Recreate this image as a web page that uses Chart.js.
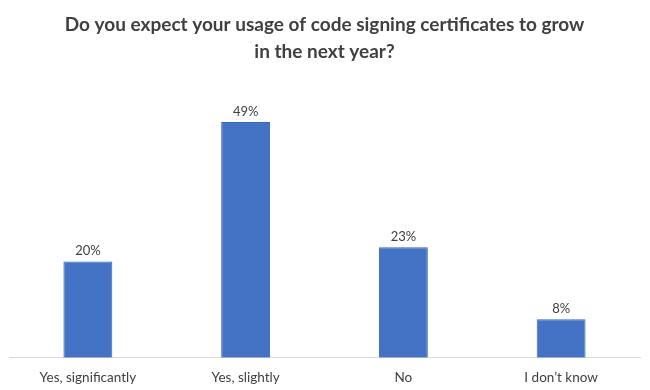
<!DOCTYPE html>
<html>
<head>
<meta charset="utf-8">
<script src="https://cdn.jsdelivr.net/npm/chart.js@4"></script>
<style>
  html, body { margin: 0; padding: 0; background: #fff; }
  #wrap { width: 650px; height: 390px; }
</style>
</head>
<body>
<div id="wrap"><canvas id="myChart"></canvas></div>
<script>
const answers = ['Yes, significantly', 'Yes, slightly', 'No', 'I don\u2019t know'];
const shares = [20, 49, 23, 8];
const titleLines = ['Do you expect your usage of code signing certificates to grow', 'in the next year?'];

// draws the % value above each bar
const barValues = {
  id: 'barValues',
  afterDatasetsDraw(chart) {
    const ctx = chart.ctx;
    ctx.save();
    ctx.font = '13px Lato';
    ctx.fillStyle = '#404040';
    ctx.textAlign = 'center';
    ctx.textBaseline = 'bottom';
    chart.getDatasetMeta(0).data.forEach((bar, i) => {
      ctx.fillText(shares[i] + '%', bar.x, bar.y - 4);
    });
    ctx.restore();
  },
};

const myBarChart = new Chart('myChart', {
  type: 'bar',
  data: {
    labels: answers,
    datasets: [
      {
        label: 'Share',
        data: shares,
        backgroundColor: '#4472C4',
        borderColor: '#3a66b8',
        borderWidth: 1,
        barPercentage: 0.31,
        categoryPercentage: 1,
      },
    ],
  },
  options: {
    responsive: true,
    maintainAspectRatio: false,
    animation: false,
    layout: { padding: { left: 9, right: 10, top: 0, bottom: -8 } },
    plugins: {
      legend: { display: false },
      tooltip: { enabled: false },
      title: {
        display: true,
        text: titleLines,
        color: '#404040',
        font: { family: 'Lato', size: 19, weight: 'bold', lineHeight: 1.45 },
        padding: { top: 11, bottom: 3 },
      },
    },
    scales: {
      y: {
        display: false,
        min: 0,
        max: 60,
      },
      x: {
        grid: { display: false, drawTicks: false },
        border: { display: true, color: '#d9d9d9', width: 1 },
        ticks: {
          color: '#404040',
          font: { family: 'Lato', size: 13.5 },
          padding: 12,
          maxRotation: 0,
        },
      },
    },
  },
  plugins: [barValues],
});
</script>
</body>
</html>
